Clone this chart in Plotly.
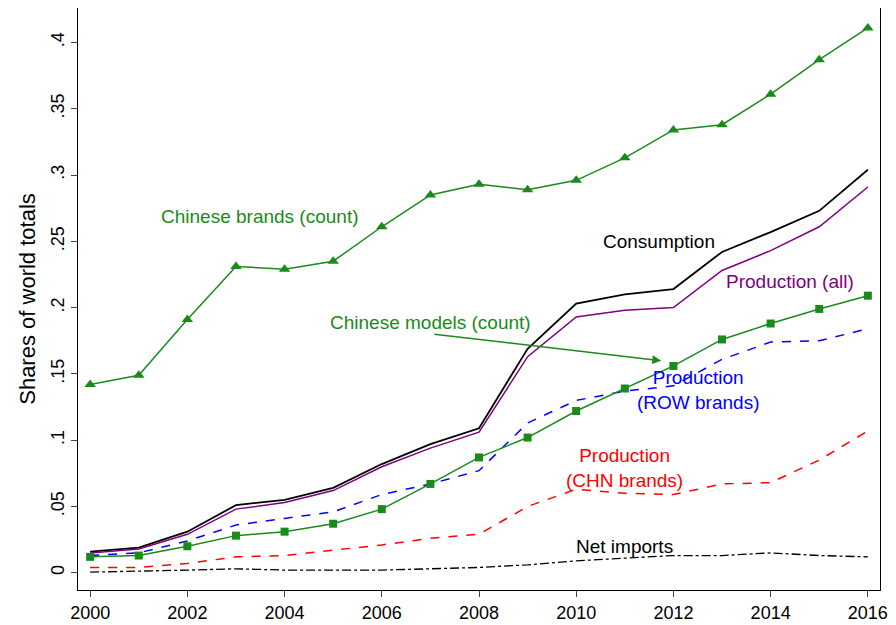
import plotly.graph_objects as go

years = list(range(2000, 2017))
brands = [0.142, 0.149, 0.191, 0.231, 0.229, 0.235, 0.261, 0.285, 0.293, 0.289, 0.296, 0.313, 0.334, 0.338, 0.361, 0.387, 0.411]
models = [0.012, 0.013, 0.020, 0.028, 0.031, 0.037, 0.048, 0.067, 0.087, 0.102, 0.122, 0.139, 0.156, 0.176, 0.188, 0.199, 0.209]
consumption = [0.016, 0.019, 0.031, 0.051, 0.055, 0.064, 0.082, 0.097, 0.109, 0.169, 0.203, 0.210, 0.214, 0.242, 0.257, 0.273, 0.304]
prod_all = [0.015, 0.018, 0.029, 0.048, 0.053, 0.062, 0.080, 0.094, 0.106, 0.163, 0.193, 0.198, 0.200, 0.228, 0.243, 0.261, 0.291]
prod_row = [0.013, 0.015, 0.024, 0.036, 0.041, 0.046, 0.059, 0.067, 0.077, 0.113, 0.130, 0.137, 0.141, 0.161, 0.174, 0.175, 0.184]
prod_chn = [0.004, 0.004, 0.007, 0.012, 0.013, 0.017, 0.021, 0.026, 0.029, 0.050, 0.063, 0.060, 0.059, 0.067, 0.068, 0.085, 0.107]
net_imports = [0.0005, 0.001, 0.002, 0.003, 0.002, 0.002, 0.002, 0.003, 0.004, 0.006, 0.009, 0.011, 0.013, 0.013, 0.015, 0.013, 0.012]

green = "#1a8a1a"
fig = go.Figure()
fig.add_trace(go.Scatter(x=years, y=brands, mode="lines+markers", line=dict(color=green, width=1.5),
                         marker=dict(symbol="triangle-up", size=10, color=green)))
fig.add_trace(go.Scatter(x=years, y=consumption, mode="lines", line=dict(color="black", width=1.8)))
fig.add_trace(go.Scatter(x=years, y=prod_all, mode="lines", line=dict(color="#800080", width=1.5)))
fig.add_trace(go.Scatter(x=years, y=prod_row, mode="lines", line=dict(color="blue", width=1.5, dash="dash")))
fig.add_trace(go.Scatter(x=years, y=prod_chn, mode="lines", line=dict(color="red", width=1.5, dash="dash")))
fig.add_trace(go.Scatter(x=years, y=net_imports, mode="lines", line=dict(color="black", width=1.3, dash="dashdot")))
fig.add_trace(go.Scatter(x=years, y=models, mode="lines+markers", line=dict(color=green, width=1.5),
                         marker=dict(symbol="square", size=8, color=green)))

f = dict(family="Liberation Sans, Arial", size=19)
labels = [
    (2003.5, 0.269, "Chinese brands (count)", green),
    (2011.7, 0.250, "Consumption", "black"),
    (2014.4, 0.220, "Production (all)", "#800080"),
    (2007.0, 0.189, "Chinese models (count)", green),
    (2012.5, 0.138, "Production<br>(ROW brands)", "blue"),
    (2011.0, 0.079, "Production<br>(CHN brands)", "red"),
    (2011.0, 0.020, "Net imports", "black"),
]
for x, y, t, c in labels:
    fig.add_annotation(x=x, y=y, text=t, showarrow=False, font=dict(color=c, **f), yanchor="middle")
fig.add_annotation(x=2011.75, y=0.160, ax=2007.05, ay=0.180, axref="x", ayref="y", text="",
                   showarrow=True, arrowhead=2, arrowsize=1.2, arrowwidth=1.5, arrowcolor=green)

fig.update_layout(
    width=880, height=617, showlegend=False, plot_bgcolor="white", paper_bgcolor="white",
    margin=dict(l=70, r=8, t=0, b=35), font=dict(family="Liberation Sans, Arial", size=18, color="black"),
)
fig.update_xaxes(range=[1999.75, 2016.25], tickvals=list(range(2000, 2017, 2)), ticks="outside",
                 ticklen=6, showgrid=False, zeroline=False, showline=True, linecolor="black", mirror=True)
fig.update_yaxes(range=[-0.013, 0.426], tickvals=[0, 0.05, 0.1, 0.15, 0.2, 0.25, 0.3, 0.35, 0.4],
                 ticktext=["0", ".05", ".1", ".15", ".2", ".25", ".3", ".35", ".4"], tickangle=-90,
                 ticks="outside", ticklen=6, showgrid=False, zeroline=False, showline=True,
                 linecolor="black", mirror=True, title=dict(text="Shares of world totals", standoff=6))
fig.write_html("out.html")
